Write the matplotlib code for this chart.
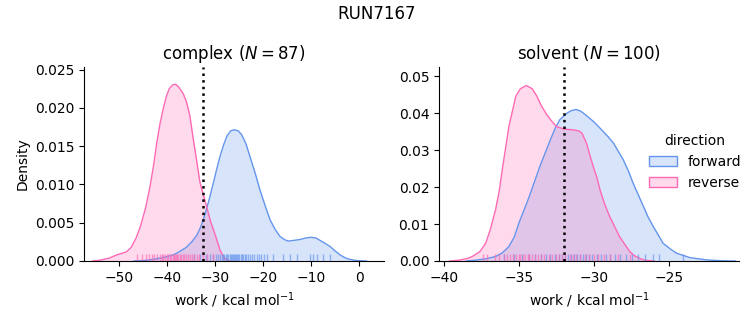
import matplotlib
matplotlib.use("Agg")
import matplotlib.pyplot as plt
import matplotlib.transforms as mtransforms
from matplotlib.patches import Patch

# density curves (work, density)
complex_fwd_x = [-47, -44, -42.2, -40.5, -38.75, -37.5, -36.0, -34.9, -33.9, -33.0, -32.1, -31.2,
                 -30.4, -29.7, -29.0, -28.3, -27.6, -26.8, -26.0, -25.2, -24.5, -23.6, -22.8, -21.7,
                 -20.7, -19.6, -18.6, -17.5, -16.5, -15.6, -14.8, -13.6, -12.4, -11.2, -10.0, -9.0,
                 -8.2, -7.1, -6.1, -5.0, -4.0, -2.9, -1.9, -0.5, 1.5]
complex_fwd_y = [0, 0.0001, 0.0003, 0.0005, 0.0008, 0.0012, 0.0018, 0.0025, 0.0033, 0.0045, 0.0062, 0.0082,
                 0.0102, 0.0120, 0.0137, 0.0151, 0.0163, 0.0170, 0.01715, 0.0170, 0.0165, 0.0153, 0.0137, 0.0115,
                 0.0093, 0.0072, 0.0054, 0.0041, 0.0032, 0.0028, 0.0026, 0.0027, 0.0028, 0.0030, 0.0031, 0.0030,
                 0.0027, 0.0023, 0.0019, 0.0013, 0.0008, 0.0004, 0.0002, 0.00005, 0]

complex_rev_x = [-55.5, -54, -52, -50.5, -49.5, -48.5, -47.5, -46.5, -45.5, -44.5, -43.6, -42.8, -42.2,
                 -41.5, -40.8, -40.2, -39.6, -38.9, -38.25, -37.6, -36.7, -36.0, -35.3, -34.6, -33.9,
                 -33.2, -32.56, -31.8, -31.0, -30.0, -29.0, -28.0, -27.0]
complex_rev_y = [0, 0.0001, 0.0004, 0.0008, 0.0010, 0.0012, 0.0018, 0.0030, 0.0047, 0.0070, 0.0097, 0.0127, 0.0154,
                 0.0180, 0.0200, 0.0215, 0.0225, 0.0230, 0.0231, 0.0227, 0.0219, 0.0208, 0.0190, 0.0160, 0.0132,
                 0.0103, 0.0088, 0.0071, 0.0052, 0.0034, 0.0014, 0.0003, 0]

solvent_fwd_x = [-38.5, -37.9, -37.2, -36.55, -36.1, -35.66, -35.3, -35.0, -34.65, -34.3, -33.95, -33.6,
                 -33.25, -32.9, -32.6, -32.28, -31.8, -31.5, -31.2, -30.9, -30.7, -30.4, -30.05, -29.7,
                 -29.4, -29.05, -28.7, -28.4, -28.05, -27.7, -27.4, -27.05, -26.7, -26.4, -26.05, -25.7,
                 -25.4, -24.9, -24.5, -23.6, -22.5, -21.4, -20.6]
solvent_fwd_y = [0, 0.0002, 0.0006, 0.0012, 0.0022, 0.0039, 0.0065, 0.0102, 0.0138, 0.0175, 0.0215, 0.0256,
                 0.0292, 0.0328, 0.0357, 0.0382, 0.0400, 0.0407, 0.0410, 0.0406, 0.0400, 0.0390, 0.0378, 0.0364,
                 0.0351, 0.0336, 0.0319, 0.0298, 0.0274, 0.0243, 0.0211, 0.0179, 0.0147, 0.0119, 0.0093, 0.0069,
                 0.0048, 0.0032, 0.0021, 0.0009, 0.0003, 0.00005, 0]

solvent_rev_x = [-39.6, -39.0, -38.4, -38.1, -37.6, -37.2, -36.9, -36.55, -36.3, -36.1, -35.9, -35.66,
                 -35.4, -35.2, -34.9, -34.5, -34.1, -33.8, -33.5, -33.14, -32.8, -32.5, -32.0, -31.4,
                 -31.0, -30.8, -30.5, -30.3, -30.05, -29.8, -29.6, -29.3, -28.95, -28.6, -28.3, -27.9,
                 -27.6, -27.3, -26.95, -26.6, -26.0]
solvent_rev_y = [0, 0.0002, 0.0007, 0.0012, 0.0025, 0.0048, 0.0085, 0.0138, 0.0190, 0.0247, 0.0300, 0.0364,
                 0.0410, 0.0446, 0.0466, 0.0475, 0.0466, 0.0446, 0.0420, 0.0396, 0.0378, 0.0364, 0.0357, 0.0355,
                 0.0352, 0.0346, 0.0319, 0.0290, 0.0256, 0.0225, 0.0193, 0.0155, 0.0120, 0.0091, 0.0066, 0.0042,
                 0.0025, 0.0014, 0.0007, 0.0002, 0]

# individual work values (rug)
complex_fwd_rug = [-34.5, -33.2, -32.0, -31.1, -30.5, -29.8, -29.4, -29.0, -28.7, -28.4, -28.1, -27.8,
                   -27.5, -27.3, -27.0, -26.8, -26.6, -26.3, -26.1, -25.9, -25.7, -25.4, -25.2, -25.0,
                   -24.7, -24.4, -24.2, -23.8, -23.5, -23.1, -22.7, -22.3, -21.9, -21.4, -20.9, -20.5,
                   -19.8, -19.2, -17.9, -15.8, -14.4, -13.0, -10.3, -9.6, -8.9, -7.5, -6.1]
complex_rev_rug = [-46.4, -45.2, -44.5, -43.8, -43.2, -42.7, -42.1, -41.6, -41.2, -40.8, -40.5, -40.1,
                   -39.8, -39.5, -39.2, -38.9, -38.7, -38.4, -38.2, -37.9, -37.7, -37.4, -37.1, -36.8,
                   -36.5, -36.1, -35.7, -35.3, -34.9, -34.4, -33.9, -33.3, -32.6, -31.8, -30.4]
solvent_fwd_rug = [-36.0, -35.3, -34.8, -34.3, -33.9, -33.5, -33.2, -32.9, -32.6, -32.3, -32.1, -31.9,
                   -31.7, -31.5, -31.3, -31.1, -30.9, -30.7, -30.5, -30.3, -30.1, -29.8, -29.5, -29.2,
                   -28.9, -28.6, -28.3, -27.9, -27.5, -27.1, -26.6, -26.1, -25.7, -24.07]
solvent_rev_rug = [-37.4, -37.1, -36.6, -36.3, -36.0, -35.8, -35.6, -35.4, -35.2, -35.0, -34.9, -34.7,
                   -34.6, -34.4, -34.3, -34.1, -33.9, -33.7, -33.5, -33.3, -33.0, -32.8, -32.5, -32.3,
                   -32.1, -31.9, -31.6, -31.4, -31.2, -30.9, -30.6, -30.3, -30.0, -29.7, -29.3, -28.9,
                   -28.4, -27.6]

complex_mean = -32.56
solvent_mean = -31.98

blue = "cornflowerblue"
pink = "hotpink"

fig = plt.figure(figsize=(7.53, 3.25), dpi=100)
ax1 = fig.add_axes([84 / 753, 1 - 261 / 325, 300 / 753, 194 / 325])
ax2 = fig.add_axes([439 / 753, 1 - 261 / 325, 300 / 753, 194 / 325])


def draw(ax, fx, fy, rx, ry, frug, rrug, mean):
    ax.fill_between(fx, fy, color=blue, alpha=0.25, lw=0)
    ax.plot(fx, fy, color=blue, lw=1)
    ax.fill_between(rx, ry, color=pink, alpha=0.25, lw=0)
    ax.plot(rx, ry, color=pink, lw=1)
    trans = mtransforms.blended_transform_factory(ax.transData, ax.transAxes)
    ax.vlines(frug, 0, 0.035, transform=trans, color=blue, lw=1, alpha=0.65)
    ax.vlines(rrug, 0, 0.035, transform=trans, color=pink, lw=1, alpha=0.65)
    ax.axvline(mean, color="black", ls=":", lw=1.8)
    ax.spines["top"].set_visible(False)
    ax.spines["right"].set_visible(False)
    ax.set_xlabel("work / kcal mol$^{-1}$")


draw(ax1, complex_fwd_x, complex_fwd_y, complex_rev_x, complex_rev_y,
     complex_fwd_rug, complex_rev_rug, complex_mean)
draw(ax2, solvent_fwd_x, solvent_fwd_y, solvent_rev_x, solvent_rev_y,
     solvent_fwd_rug, solvent_rev_rug, solvent_mean)

ax1.set_xlim(-57.35, 5.15)
ax1.set_ylim(0, 0.02535)
ax1.set_xticks([-50, -40, -30, -20, -10, 0])
ax1.set_yticks([0, 0.005, 0.01, 0.015, 0.02, 0.025])
ax1.set_ylabel("Density")
ax1.set_title("complex ($N = 87$)", fontsize=12)

ax2.set_xlim(-40.31, -20.35)
ax2.set_ylim(0, 0.0525)
ax2.set_xticks([-40, -35, -30, -25])
ax2.set_yticks([0, 0.01, 0.02, 0.03, 0.04, 0.05])
ax2.set_title("solvent ($N = 100$)", fontsize=12)

fig.suptitle("RUN7167", fontsize=12, y=0.985)

handles = [Patch(facecolor=(0.392, 0.584, 0.929, 0.25), edgecolor=blue),
           Patch(facecolor=(1.0, 0.412, 0.706, 0.25), edgecolor=pink)]
fig.legend(handles, ["forward", "reverse"], title="direction", frameon=False,
           loc="center", bbox_to_anchor=(695 / 753, 1 - 162 / 325))

fig.savefig("out.png", dpi=100)
